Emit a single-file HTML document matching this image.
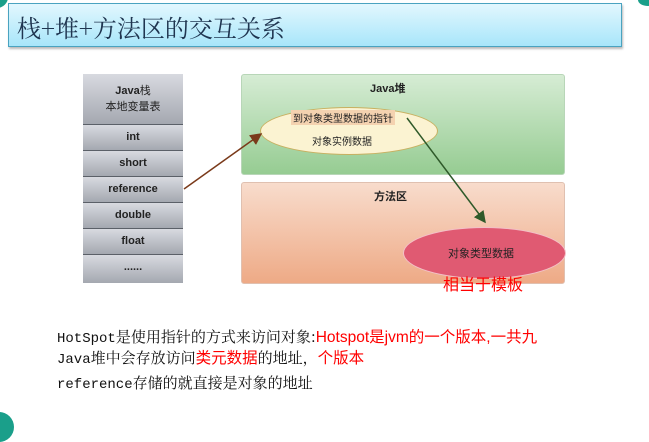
<!DOCTYPE html>
<html><head><meta charset="utf-8"><style>
body{margin:0;width:649px;height:427px;background:#fff;position:relative;overflow:hidden;font-family:"Liberation Sans","Noto Sans CJK SC",sans-serif}
.a{position:absolute}
.title{left:8px;top:3px;width:612px;height:42px;border:1px solid #4aa3c0;background:linear-gradient(#e2f7fe,#a8e6fa);box-shadow:1px 2px 2px #bbb}
.title span{position:absolute;left:8px;top:5px;font-size:24px;color:#1f3550;font-family:"Noto Serif CJK SC",serif}
.row{left:83px;width:100px;height:25px;border-bottom:1px solid #5b6068;background:linear-gradient(#d8dae0,#a4a8b0);font-size:11px;font-weight:bold;color:#222;text-align:center;line-height:25px}
.t{font-size:15px;font-family:"Noto Serif CJK SC",serif;color:#111;white-space:nowrap;line-height:18px}
.t i{font-style:normal;font-family:"Liberation Mono",monospace;font-size:14px}
.r{color:#f00;font-family:"Liberation Sans","Noto Sans CJK SC",sans-serif;font-size:15.5px}
</style></head><body>
<div class="a" style="left:-14px;top:-14px;width:22px;height:22px;border-radius:50%;background:#1a9f8a"></div>
<div class="a" style="left:638px;top:-6px;width:20px;height:12px;border-radius:50%;background:#1a9f8a"></div>
<div class="a" style="left:-16px;top:412px;width:30px;height:30px;border-radius:50%;background:#1a9f8a"></div>
<div class="a title"><span>栈+堆+方法区的交互关系</span></div>
<div class="a row" style="top:74px;height:50px;line-height:16px;font-weight:normal;font-size:11px"><div style="padding-top:9px"><b>Java</b>栈<br>本地变量表</div></div>
<div class="a row" style="top:125px">int</div>
<div class="a row" style="top:151px">short</div>
<div class="a row" style="top:177px">reference</div>
<div class="a row" style="top:203px">double</div>
<div class="a row" style="top:229px">float</div>
<div class="a row" style="top:255px;height:28px;border:none">......</div>
<div class="a" style="left:241px;top:74px;width:322px;height:99px;border:1px solid #b8d6b8;border-radius:3px;background:linear-gradient(#d6ecd4,#96cc92)"></div>
<div class="a" style="left:241px;top:182px;width:322px;height:100px;border:1px solid #e0c0b0;border-radius:3px;background:linear-gradient(#f8dccc,#eeaa86)"></div>
<div class="a" style="left:370px;top:80px;font-size:11px;font-weight:bold;color:#222">Java堆</div>
<div class="a" style="left:374px;top:188px;font-size:11px;font-weight:bold;color:#222">方法区</div>
<div class="a" style="left:260px;top:107px;width:176px;height:46px;border-radius:50%;background:#fbf3d2;border:1px solid #c8b060"></div>
<div class="a" style="left:291px;top:110px;font-size:10px;background:#f4d2b0;padding:0 2px;color:#222">到对象类型数据的指针</div>
<div class="a" style="left:312px;top:133px;font-size:10px;color:#222">对象实例数据</div>
<div class="a" style="left:403px;top:227px;width:161px;height:50px;border-radius:50%;background:#e05a72;border:1px solid #f3c0c8"></div>
<div class="a" style="left:448px;top:245px;font-size:11px;color:#222">对象类型数据</div>
<div class="a" style="left:443px;top:271px;font-size:16px;color:#f00">相当于模板</div>
<svg class="a" style="left:0;top:0" width="649" height="427">
<defs><marker id="m1" markerWidth="8" markerHeight="8" refX="7" refY="4" orient="auto"><path d="M0,0L8,4L0,8z" fill="#7a3a1a"/></marker>
<marker id="m2" markerWidth="8" markerHeight="8" refX="7" refY="4" orient="auto"><path d="M0,0L8,4L0,8z" fill="#2f5a2a"/></marker></defs>
<line x1="184" y1="189" x2="261" y2="134" stroke="#7a3a1a" stroke-width="1.5" marker-end="url(#m1)"/>
<line x1="407" y1="118" x2="485" y2="222" stroke="#2f5a2a" stroke-width="1.5" marker-end="url(#m2)"/>
</svg>
<div class="a t" style="left:57px;top:328px"><i>HotSpot</i>是使用指针的方式来访问对象:<span class="r">Hotspot是jvm的一个版本,一共九</span></div>
<div class="a t" style="left:57px;top:349px"><i>Java</i>堆中会存放访问<span class="r">类元数据</span>的地址，<span class="r">个版本</span></div>
<div class="a t" style="left:57px;top:374px"><i>reference</i>存储的就直接是对象的地址</div>
</body></html>
